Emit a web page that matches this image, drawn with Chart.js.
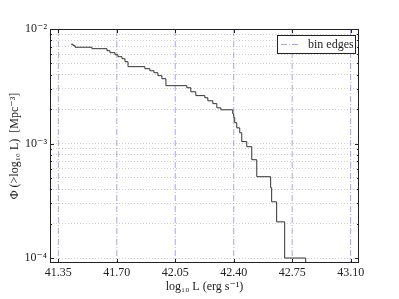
<!DOCTYPE html>
<html>
<head>
<meta charset="utf-8">
<script src="https://cdn.jsdelivr.net/npm/chart.js@4.4.0/dist/chart.umd.min.js"></script>
<style>
  html, body { margin: 0; padding: 0; background: #fff; }
  #wrap { width: 399px; height: 299px; }
</style>
</head>
<body>
<div id="wrap"><canvas id="lf" width="399" height="299"></canvas></div>
<script>
// ─── DATA ────────────────────────────────────────────
// left end of every step of the cumulative LF, and the value of that step
const logL = [41.426, 41.438, 41.450, 41.551, 41.641, 41.659, 41.689, 41.707, 41.731, 41.749,
              41.767, 41.868, 41.898, 41.922, 41.946, 41.970, 41.994, 42.119, 42.143, 42.173,
              42.227, 42.245, 42.275, 42.299, 42.323, 42.394, 42.400, 42.406, 42.418, 42.436,
              42.448, 42.478, 42.508, 42.538, 42.621, 42.627, 42.657, 42.705, 42.831];
const phi  = [7.37e-3, 7.15e-3, 6.93e-3, 6.73e-3, 6.46e-3, 6.21e-3, 5.96e-3, 5.73e-3, 5.50e-3, 5.18e-3,
              4.69e-3, 4.50e-3, 4.32e-3, 4.15e-3, 3.91e-3, 3.68e-3, 3.20e-3, 3.07e-3, 2.83e-3, 2.62e-3,
              2.51e-3, 2.36e-3, 2.23e-3, 2.05e-3, 1.97e-3, 1.82e-3, 1.68e-3, 1.52e-3, 1.37e-3, 1.24e-3,
              1.04e-3, 9.38e-4, 7.22e-4, 5.13e-4, 4.11e-4, 3.10e-4, 2.07e-4, 1.00e-4, 1e-6];

const binEdges    = [41.35, 41.70, 42.05, 42.40, 42.75, 43.10];
const xTickLabels = ['41.35', '41.70', '42.05', '42.40', '42.75', '43.10'];
const yMajorTicks = [1e-4, 1e-3, 1e-2];
const yTickLabels = ['10⁻⁴', '10⁻³', '10⁻²'];

const SERIF = '"Liberation Serif", "DejaVu Serif", serif';
Chart.defaults.font.family = SERIF;
Chart.defaults.font.size = 12;
Chart.defaults.color = '#222';

// ─── helpers ─────────────────────────────────────────
// minor log ticks 1..9 x each decade, plus the top decade
const yTicks = [];
for (let d = 0; d < yMajorTicks.length - 1; d++) {
  for (let m = 1; m <= 9; m++) yTicks.push(m * yMajorTicks[d]);
}
yTicks.push(yMajorTicks[yMajorTicks.length - 1]);

function yLabel(v) {
  const k = yMajorTicks.findIndex(m => Math.abs(m - v) / m < 1e-6);
  return k >= 0 ? yTickLabels[k] : '';
}

// vertical bin edge lines, broken apart by null points
const edgeLines = [];
binEdges.forEach(e => {
  edgeLines.push({ x: e, y: 1e-6 }, { x: e, y: 1 }, { x: e, y: null });
});

// ─── FRAME, INWARD TICKS, LEGEND ─────────────────────
const framePlugin = {
  id: 'frame',
  afterDraw(chart) {
    const { ctx, chartArea: a, scales: { x, y } } = chart;
    ctx.save();
    ctx.strokeStyle = '#222';
    ctx.lineWidth = 1;
    ctx.strokeRect(a.left + 0.5, a.top + 0.5, a.right - a.left - 1, a.bottom - a.top - 1);

    ctx.beginPath();
    y.ticks.forEach(t => {
      const py = Math.round(y.getPixelForValue(t.value)) + 0.5;
      const len = yLabel(t.value) ? 4 : 2;
      ctx.moveTo(a.left, py);  ctx.lineTo(a.left + len, py);
      ctx.moveTo(a.right, py); ctx.lineTo(a.right - len, py);
    });
    x.ticks.forEach(t => {
      const px = Math.round(x.getPixelForValue(t.value)) + 0.5;
      ctx.moveTo(px, a.bottom); ctx.lineTo(px, a.bottom - 4);
      ctx.moveTo(px, a.top);    ctx.lineTo(px, a.top + 4);
    });
    ctx.stroke();

    // legend, upper right
    const ds = chart.data.datasets[1];
    const bw = 78, bh = 18;
    const bx = a.right - 82, by = a.top + 6;
    ctx.fillStyle = '#fff';
    ctx.fillRect(bx, by, bw, bh);
    ctx.strokeRect(bx + 0.5, by + 0.5, bw, bh);
    ctx.beginPath();
    ctx.setLineDash(ds.borderDash);
    ctx.strokeStyle = ds.borderColor;
    ctx.moveTo(bx + 4, by + 9.5);
    ctx.lineTo(bx + 22, by + 9.5);
    ctx.stroke();
    ctx.setLineDash([]);
    ctx.fillStyle = '#222';
    ctx.font = '12px ' + SERIF;
    ctx.textBaseline = 'middle';
    ctx.fillText(ds.label, bx + 31, by + 10);
    ctx.restore();
  }
};

// ─── CHART ───────────────────────────────────────────
new Chart(document.getElementById('lf').getContext('2d'), {
  type: 'line',
  data: {
    datasets: [{
      label: 'cumulative LF',
      data: logL.map((v, i) => ({ x: v, y: phi[i] })),
      stepped: true,
      borderColor: '#333',
      borderWidth: 1,
      pointRadius: 0,
      fill: false,
      order: 0,
    }, {
      label: 'bin edges',
      data: edgeLines,
      borderColor: 'rgba(110,110,200,0.6)',
      borderWidth: 1,
      borderDash: [6, 2, 1, 2],
      pointRadius: 0,
      fill: false,
      spanGaps: false,
      order: 1,
    }],
  },
  options: {
    responsive: false,
    animation: false,
    layout: { padding: { left: 0, top: 29, right: 40, bottom: 0 } },
    plugins: { legend: { display: false }, tooltip: { enabled: false } },
    scales: {
      x: {
        type: 'linear',
        bounds: 'data',
        min: 41.30,
        max: 43.15,
        afterBuildTicks: s => { s.ticks = binEdges.map(v => ({ value: v })); },
        afterFit: s => { s.height = 36; },
        ticks: { callback: (v, i) => xTickLabels[i], padding: 3, maxRotation: 0, autoSkip: false },
        grid: { display: false, drawTicks: false },
        border: { display: false },
        title: { display: true, text: 'log₁₀ L (erg s⁻¹)', padding: { top: 0, bottom: 5 } },
      },
      y: {
        type: 'logarithmic',
        bounds: 'data',
        min: 9.05e-5,
        max: 1e-2,
        afterBuildTicks: s => { s.ticks = yTicks.map(v => ({ value: v })); },
        afterFit: s => { s.width = 50; },
        ticks: { callback: v => yLabel(v), padding: 3, autoSkip: false },
        grid: { color: '#cfcfcf', drawTicks: false },
        border: { display: false, dash: [1, 2] },
        title: { display: true, text: 'Φ (>log₁₀ L)  [Mpc⁻³]', padding: { top: 8, bottom: 0 } },
      },
    },
  },
  plugins: [framePlugin],
});
</script>
</body>
</html>
